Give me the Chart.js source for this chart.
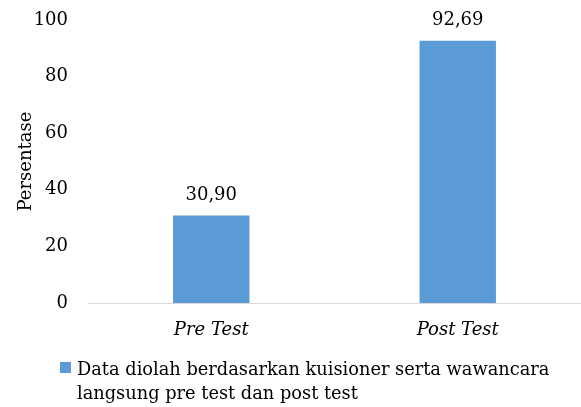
<!DOCTYPE html>
<html><head><meta charset="utf-8">
<script src="https://cdn.jsdelivr.net/npm/chart.js@4"></script>
<style>html,body{margin:0;padding:0;background:#fff}#wrap{width:581px;height:407px;position:relative}</style>
</head><body><div id="wrap"><canvas id="c"></canvas></div>
<script>
const categories = ['Pre Test', 'Post Test'];
const values = [30.90, 92.69];
const seriesLabel = ['Data diolah berdasarkan kuisioner serta wawancara', 'langsung pre test dan post test'];
const yTickStep = 20;
const yMin = 0;
const yMax = 100;
const yTitle = 'Persentase';

const FONT = "'DejaVu Serif', serif";
const FS = 18;
const BAR = '#5b9bd5';

const valueLabels = {
  id: 'valueLabels',
  afterDatasetsDraw(chart) {
    const ctx = chart.ctx;
    ctx.save();
    ctx.font = FS + 'px ' + FONT;
    ctx.fillStyle = '#000';
    ctx.textAlign = 'center';
    ctx.textBaseline = 'alphabetic';
    chart.getDatasetMeta(0).data.forEach((bar, i) => {
      const v = chart.data.datasets[0].data[i];
      ctx.fillText(v.toFixed(2).replace('.', ','), bar.x, bar.y - 16);
    });
    ctx.restore();
  }
};

const wrapLegend = {
  id: 'wrapLegend',
  afterDraw(chart) {
    const ctx = chart.ctx;
    const ds = chart.data.datasets[0];
    ctx.save();
    ctx.fillStyle = ds.backgroundColor;
    ctx.fillRect(60, 362, 11, 11);
    ctx.font = '17.8px ' + FONT;
    ctx.fillStyle = '#000';
    ctx.textAlign = 'left';
    ctx.textBaseline = 'alphabetic';
    ds.label.forEach((line, i) => ctx.fillText(line, 77, 375 + i * 24));
    ctx.restore();
  }
};

new Chart(document.getElementById('c'), {
  type: 'bar',
  data: {
    labels: categories,
    datasets: [{
      label: seriesLabel,
      data: values,
      backgroundColor: BAR,
      borderWidth: 0,
      barPercentage: 0.31,
      categoryPercentage: 1.0
    }]
  },
  options: {
    responsive: true,
    maintainAspectRatio: false,
    animation: false,
    layout: { padding: { top: 20, left: 15.2, right: -6, bottom: 0 } },
    plugins: { legend: { display: false }, tooltip: { enabled: false } },
    scales: {
      x: {
        grid: { display: false, drawTicks: false },
        border: { display: true, color: '#d9d9d9', width: 1 },
        ticks: { color: '#000', padding: 17, font: { family: FONT, size: FS, style: 'italic' } },
        afterFit(scale) { scale.height = 104; }
      },
      y: {
        min: yMin, max: yMax,
        grid: { display: false, drawTicks: false },
        border: { display: false },
        ticks: { stepSize: yTickStep, color: '#000', padding: 20, font: { family: FONT, size: FS } },
        title: { display: true, text: yTitle, color: '#000', padding: { top: 0, bottom: 0 }, font: { family: FONT, size: FS } },
        afterFit(scale) { scale.width = 72.8; scale.paddingTop = 0; scale.paddingBottom = 0; }
      }
    }
  },
  plugins: [valueLabels, wrapLegend]
});
</script>
</body></html>
